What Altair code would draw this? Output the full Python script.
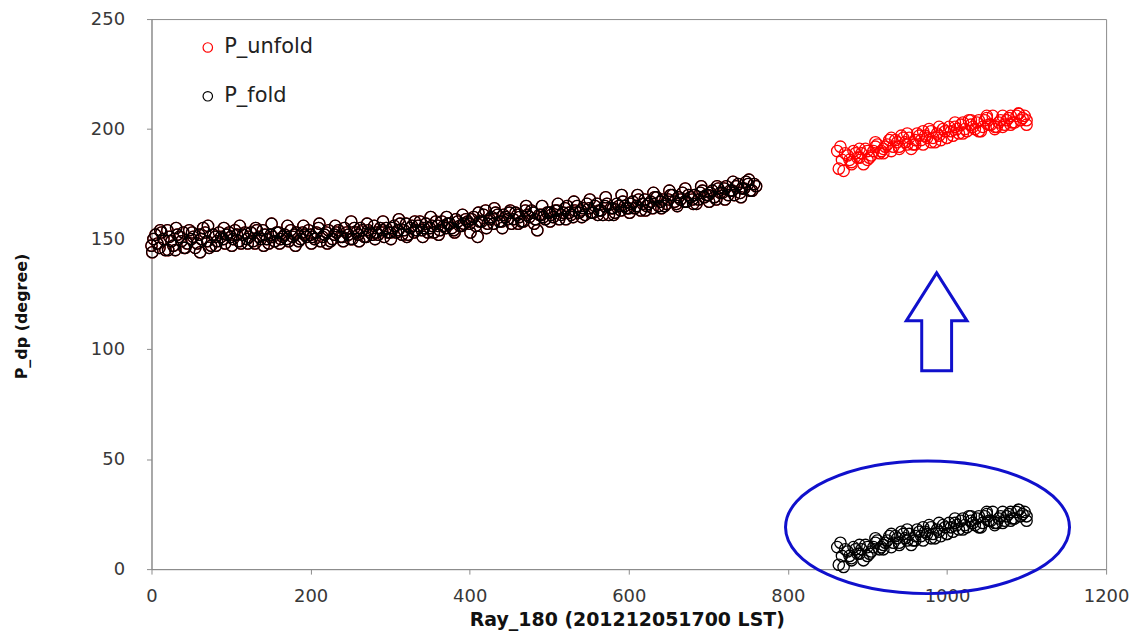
import altair as alt
import pandas as pd

# ---- data ----
main_x = list(range(0, 765, 5))
fold_main = [
    147, 152, 146, 150, 154, 149, 145, 151, 153, 148, 150, 146, 152, 155, 149, 147, 151, 153, 150, 152,
    151, 154, 149, 152, 150, 153, 148, 151, 154, 150, 152, 149, 153, 151, 150, 154, 152, 149, 153, 151,
    152, 150, 155, 151, 153, 149, 152, 154, 151, 153, 150, 155, 152, 154, 151, 153, 156, 152, 154, 155,
    153, 156, 154, 152, 157, 155, 153, 156, 154, 157, 155, 153, 156, 158, 155, 157, 154, 158, 156, 159,
    157, 160, 151, 158, 163, 159, 157, 161, 158, 160, 162, 159, 161, 158, 163, 160, 162, 154, 161, 159,
    162, 160, 163, 161, 164, 162, 160, 165, 163, 161, 164, 162, 166, 163, 165, 161, 164, 166, 163, 165,
    164, 167, 165, 163, 168, 166, 164, 169, 167, 165, 168, 170, 166, 168, 167, 170, 168, 166, 171, 169,
    170, 172, 168, 171, 173, 170, 172, 174, 171, 173, 175, 172, 174,
]
main_x2 = [2.5 + 5 * i for i in range(152)]
fold_main2 = [
    150, 148, 153, 145, 151, 147, 152, 149, 146, 154, 151, 148, 150, 153, 146, 152, 149, 151, 148, 153,
    150, 152, 148, 153, 151, 149, 154, 150, 152, 148, 151, 153, 150, 152, 149, 151, 153, 150, 152, 154,
    151, 153, 149, 152, 154, 150, 153, 151, 155, 152, 150, 153, 155, 151, 154, 152, 153, 155, 151, 153,
    155, 153, 157, 154, 152, 156, 154, 158, 155, 153, 156, 158, 154, 156, 157, 155, 159, 156, 157, 158,
    159, 156, 158, 161, 157, 160, 162, 158, 161, 159, 157, 162, 160, 158, 161, 163, 159, 161, 160, 162,
    161, 163, 159, 162, 165, 161, 163, 162, 164, 166, 162, 165, 163, 161, 166, 164, 162, 165, 167, 164,
    166, 164, 168, 166, 165, 167, 169, 165, 168, 166, 170, 167, 169, 171, 167, 169, 170, 168, 172, 170,
    171, 169, 173, 171, 174, 172, 170, 175, 173, 176, 172, 175,
]
main_x3 = [1 + 10 * i for i in range(76)]
fold_main3 = [
    144, 154, 145, 155, 146, 153, 144, 156, 147, 155,
    147, 156, 148, 155, 147, 157, 148, 156, 147, 156,
    148, 157, 148, 156, 149, 158, 149, 157, 150, 158,
    150, 159, 151, 158, 151, 160, 152, 160, 153, 161,
    153, 162, 155, 164, 155, 163, 157, 165, 157, 165,
    158, 166, 159, 167, 160, 168, 161, 169, 161, 170,
    162, 170, 163, 171, 164, 172, 165, 173, 166, 174,
    167, 174, 168, 176, 169, 177,
]
# unfolded phase equals folded phase where no folding occurred
unfold_main = fold_main
unfold_main2 = fold_main2
unfold_main3 = fold_main3

tail_x = [862, 864, 866, 868, 870, 872, 875, 880, 885, 890, 895, 900, 905, 910, 915, 920, 925, 930,
          935, 940, 945, 950, 955, 960, 965, 970, 975, 980, 985, 990, 995, 1000, 1005, 1010, 1015,
          1020, 1025, 1030, 1035, 1040, 1045, 1050, 1055, 1060, 1065, 1070, 1075, 1080, 1085, 1090,
          1095, 1100]
fold_tail = [10, 2, 12, 6, 1, 9, 8, 5, 9, 7, 4, 10, 8, 12, 9, 11, 13, 10, 15, 12, 16, 13, 11, 15,
             17, 13, 16, 19, 14, 17, 20, 16, 19, 21, 18, 23, 19, 22, 20, 24, 21, 25, 22, 20, 23, 21,
             24, 26, 23, 27, 25, 24]
unfold_tail = [190, 182, 192, 186, 181, 189, 188, 185, 189, 187, 184, 190, 188, 192, 189, 191, 193,
               190, 195, 192, 196, 193, 191, 195, 197, 193, 196, 199, 194, 197, 200, 196, 199, 201,
               198, 203, 199, 202, 200, 204, 201, 205, 202, 200, 203, 201, 204, 206, 203, 207, 205,
               204]
tail_x2 = [877.5 + 5 * i for i in range(45)]
fold_tail2 = [6, 10, 7, 9, 11, 7, 10, 13, 10, 12, 15, 12, 14, 17, 14, 16, 13, 18, 15, 17,
              20, 16, 18, 15, 19, 21, 17, 20, 22, 20, 24, 21, 23, 19, 24, 22, 26, 21, 24, 22,
              25, 23, 26, 24, 26]
unfold_tail2 = [186, 190, 187, 189, 191, 187, 190, 193, 190, 192, 195, 192, 194, 197, 194, 196, 193,
                198, 195, 197, 200, 196, 198, 195, 199, 201, 197, 200, 202, 200, 204, 201, 203, 199,
                204, 202, 206, 201, 204, 202, 205, 203, 206, 204, 206]
tail_x3 = [880 + 10 * i for i in range(23)]
fold_tail3 = [4, 11, 6, 14, 9, 16, 11, 18, 13, 19, 14, 21, 16, 23, 18, 24, 19, 26, 21, 26, 22, 27, 22]
unfold_tail3 = [184, 191, 186, 194, 189, 196, 191, 198, 193, 199, 194, 201, 196, 203, 198, 204, 199,
                206, 201, 206, 202, 207, 202]

series_names = ["P_unfold", "P_fold"]
series_colors = ["#ff0000", "#000000"]

# annotation anchors (data coordinates)
ellipse_pos = {"x": [975.5], "y": [19.0]}
arrow_pos = {"x": [987.0], "y": [112.4]}

rows = []
for xs, vs in [(main_x, unfold_main), (main_x2, unfold_main2), (main_x3, unfold_main3),
               (tail_x, unfold_tail), (tail_x2, unfold_tail2), (tail_x3, unfold_tail3)]:
    for x, v in zip(xs, vs):
        rows.append({"ray": x, "val": v, "series": "P_unfold"})
for xs, vs in [(main_x, fold_main), (main_x2, fold_main2), (main_x3, fold_main3),
               (tail_x, fold_tail), (tail_x2, fold_tail2), (tail_x3, fold_tail3)]:
    for x, v in zip(xs, vs):
        rows.append({"ray": x, "val": v, "series": "P_fold"})
df = pd.DataFrame(rows)

FONT = "DejaVu Sans"

xscale = alt.Scale(domain=[0, 1200], nice=False, zero=False)
yscale = alt.Scale(domain=[0, 250], nice=False)

points = alt.Chart(df).mark_point(filled=False, size=130, strokeWidth=1.3, opacity=1, shape="circle").encode(
    x=alt.X("ray:Q", scale=xscale,
            axis=alt.Axis(title="Ray_180 (201212051700 LST)", values=[0, 200, 400, 600, 800, 1000, 1200],
                          format="d", grid=False, tickSize=5, labelPadding=14, labelFontSize=18,
                          labelFont=FONT, labelColor="#383838", domainColor="#8c8c8c",
                          tickColor="#8c8c8c", titleFont=FONT, titleFontSize=19, titleFontWeight="bold",
                          titleColor="#111111", titleX=477, titleY=57, titleBaseline="alphabetic",
                          titleAlign="center", labelFlush=False)),
    y=alt.Y("val:Q", scale=yscale,
            axis=alt.Axis(title="P_dp (degree)", values=[0, 50, 100, 150, 200, 250], grid=False,
                          tickSize=5, labelPadding=22, labelFontSize=18, labelFont=FONT,
                          labelColor="#383838", domainColor="#8c8c8c", tickColor="#8c8c8c",
                          titleFont=FONT, titleFontSize=16, titleFontWeight="bold", titleColor="#111111",
                          titleX=-130, titleY=298, titleAngle=270, titleAlign="center",
                          titleBaseline="middle", labelFlush=False)),
    color=alt.Color("series:N", scale=alt.Scale(domain=series_names, range=series_colors),
                    legend=alt.Legend(title=None, orient="none", legendX=46, legendY=18,
                                      symbolType="circle", symbolSize=90, symbolStrokeWidth=1.2,
                                      symbolFillColor="transparent",
                                      labelFont=FONT, labelFontSize=21, labelColor="#222222",
                                      labelOffset=6, rowPadding=27, padding=0)),
)

ellipse_path = ("M 1 0 C 1 0.258 0.5523 0.467 0 0.467 C -0.5523 0.467 -1 0.258 -1 0 "
                "C -1 -0.258 -0.5523 -0.467 0 -0.467 C 0.5523 -0.467 1 -0.258 1 0 Z")
ellipse = alt.Chart(pd.DataFrame(ellipse_pos)).mark_point(
    shape=ellipse_path, size=81225, filled=False, stroke="#1010cc", strokeWidth=3, opacity=1
).encode(x=alt.X("x:Q", scale=xscale), y=alt.Y("y:Q", scale=yscale))

arrow_path = ("M 0 -1 L 0.62 -0.02 L 0.305 -0.02 L 0.305 1 L -0.305 1 L -0.305 -0.02 "
              "L -0.62 -0.02 Z")
arrow = alt.Chart(pd.DataFrame(arrow_pos)).mark_point(
    shape=arrow_path, size=9663, filled=False, stroke="#1010cc", strokeWidth=3, opacity=1,
    strokeJoin="miter"
).encode(x=alt.X("x:Q", scale=xscale), y=alt.Y("y:Q", scale=yscale))

chart = alt.layer(points, ellipse, arrow).properties(
    width=958, height=552,
    padding={"left": 144, "top": 10, "right": 30, "bottom": 62},
    autosize=alt.AutoSizeParams(type="none"),
    background="white",
).configure_view(stroke="#8c8c8c", strokeWidth=1)

chart.save("out.html", embed_options={"renderer": "svg", "actions": False})
